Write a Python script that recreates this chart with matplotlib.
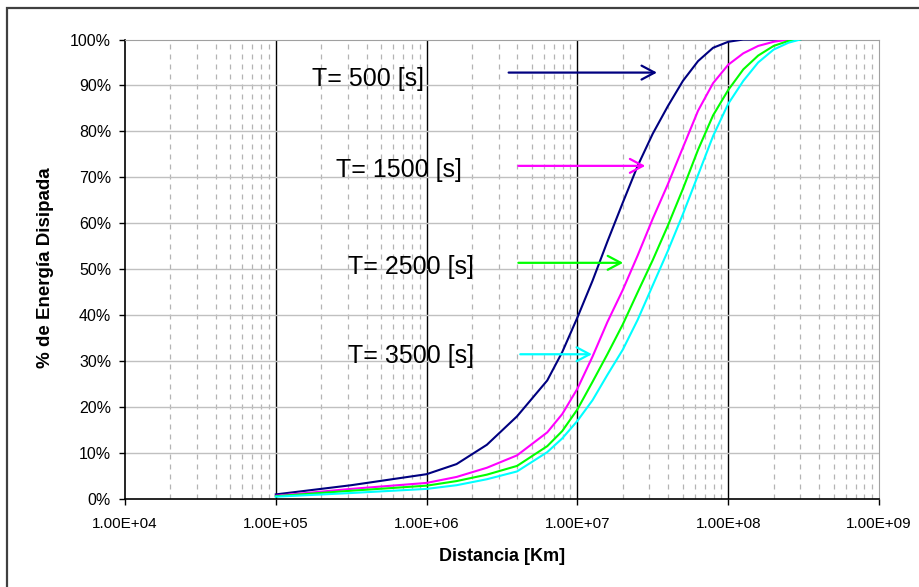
import numpy as np
import matplotlib
matplotlib.use("Agg")
import matplotlib.pyplot as plt
from matplotlib.patches import Rectangle
from matplotlib.ticker import FuncFormatter, FixedLocator, NullLocator

plt.rcParams["font.family"] = ["Liberation Sans", "DejaVu Sans"]

# distancia [Km], comun a las cuatro curvas
distancia = [1e5, 3.16e5, 1e6, 1.58e6, 2.51e6, 3.98e6, 6.31e6, 7.94e6, 1e7, 1.26e7,
             1.58e7, 2e7, 2.51e7, 3.16e7, 3.98e7, 5.01e7, 6.31e7, 7.94e7, 1e8,
             1.26e8, 1.58e8, 2e8, 2.51e8, 3e8]

# % de energia disipada
e_500 = [1.0, 3.0, 5.4, 7.6, 11.8, 18.0, 25.8, 32.0, 39.5, 47.5, 56.0, 64.5, 72.5,
         79.5, 85.5, 91.0, 95.3, 98.2, 99.5, 100.0, 100.0, 100.0, 100.0, 100.0]
e_1500 = [0.7, 2.2, 3.5, 4.8, 6.8, 9.5, 14.5, 18.5, 24.0, 31.0, 38.5, 45.5, 53.0,
          61.0, 68.5, 76.5, 84.5, 90.5, 94.5, 97.0, 98.6, 99.5, 100.0, 100.0]
e_2500 = [0.6, 1.8, 2.9, 3.9, 5.3, 7.2, 11.5, 14.8, 19.5, 25.5, 31.5, 38.0, 45.0,
          52.0, 59.5, 67.5, 76.0, 83.5, 89.0, 93.5, 96.5, 98.6, 99.7, 100.0]
e_3500 = [0.5, 1.3, 2.2, 3.0, 4.3, 6.0, 10.2, 13.2, 17.0, 21.5, 27.0, 32.5, 39.0,
          46.5, 54.0, 62.0, 70.5, 79.0, 86.0, 91.0, 95.0, 97.8, 99.3, 100.0]

nombres = ["T= 500 [s]", "T= 1500 [s]", "T= 2500 [s]", "T= 3500 [s]"]
colores = ["#000080", "#ff00ff", "#00ff00", "#00ffff"]
curvas = [e_500, e_1500, e_2500, e_3500]

# etiquetas: posicion del texto (fraccion de ejes) y flecha (cola, punta, altura %)
label_pos = [(0.3223, 0.8995), (0.3627, 0.7014), (0.3793, 0.4886), (0.3791, 0.2953)]
arrow_tail = [3.5e6, 4.06e6, 4.06e6, 4.18e6]
arrow_head = [3.37e7, 2.82e7, 2.01e7, 1.25e7]
arrow_y = [92.8, 72.5, 51.4, 31.5]

fig = plt.figure(figsize=(9.19, 5.87), dpi=100)
ax = fig.add_axes([125 / 919, 1 - 499 / 587, 754 / 919, 459.5 / 587])

for ys, col in zip(curvas, colores):
    ax.plot(distancia, ys, color=col, linewidth=1.5, zorder=3)

for name, col, (tx, ty), xt, xh, ya in zip(nombres, colores, label_pos, arrow_tail, arrow_head, arrow_y):
    ax.text(tx, ty, name, transform=ax.transAxes, fontsize=18, ha="center", va="baseline", zorder=5)
    ax.annotate("", xy=(xh, ya), xytext=(xt, ya),
                arrowprops=dict(arrowstyle="->,head_length=0.47,head_width=0.25",
                                color=col, lw=1.6, mutation_scale=20,
                                shrinkA=0, shrinkB=0), zorder=4)

ax.set_xscale("log")
ax.set_xlim(1e4, 1e9)
ax.set_ylim(0, 100)

# rejilla
decades = [1e4, 1e5, 1e6, 1e7, 1e8, 1e9]
minors = [m * d for d in decades[:-1] for m in range(2, 10)]
ax.xaxis.set_major_locator(FixedLocator(decades))
ax.xaxis.set_minor_locator(NullLocator())
for v in minors:
    ax.axvline(v, color="#b4b4b4", linewidth=0.9, linestyle=(0, (4, 4)), zorder=1)
for v in decades[1:-1]:
    ax.axvline(v, color="black", linewidth=1.0, zorder=1)
for v in range(10, 100, 10):
    ax.axhline(v, color="#c0c0c0", linewidth=1.0, zorder=1)

ax.set_yticks(range(0, 101, 10))
ax.yaxis.set_major_formatter(FuncFormatter(lambda v, p: f"{v:.0f}%"))
ax.xaxis.set_major_formatter(FuncFormatter(lambda v, p: f"{v:.2E}"))
ax.tick_params(axis="y", direction="out", length=4, width=1, pad=6, labelsize=11.5)
ax.tick_params(axis="x", direction="out", length=4, width=1, pad=9, labelsize=11)

ax.spines["top"].set_color("#a0a0a0")
ax.spines["right"].set_color("#a0a0a0")
ax.spines["left"].set_linewidth(1.2)
ax.spines["bottom"].set_linewidth(1.2)

ax.set_xlabel("Distancia [Km]", fontsize=13, fontweight="bold")
ax.set_ylabel("% de Energía Disipada", fontsize=13.5, fontweight="bold")
ax.xaxis.set_label_coords(0.5, -0.1066)
ax.yaxis.set_label_coords(-0.0945, 0.503)

# marco exterior
fig.patches.append(Rectangle((7 / 919, -0.1), 1.2, (587 - 8) / 587 + 0.1,
                             transform=fig.transFigure, fill=False,
                             edgecolor="#404040", linewidth=1.6))

fig.savefig("out.png", dpi=100)
